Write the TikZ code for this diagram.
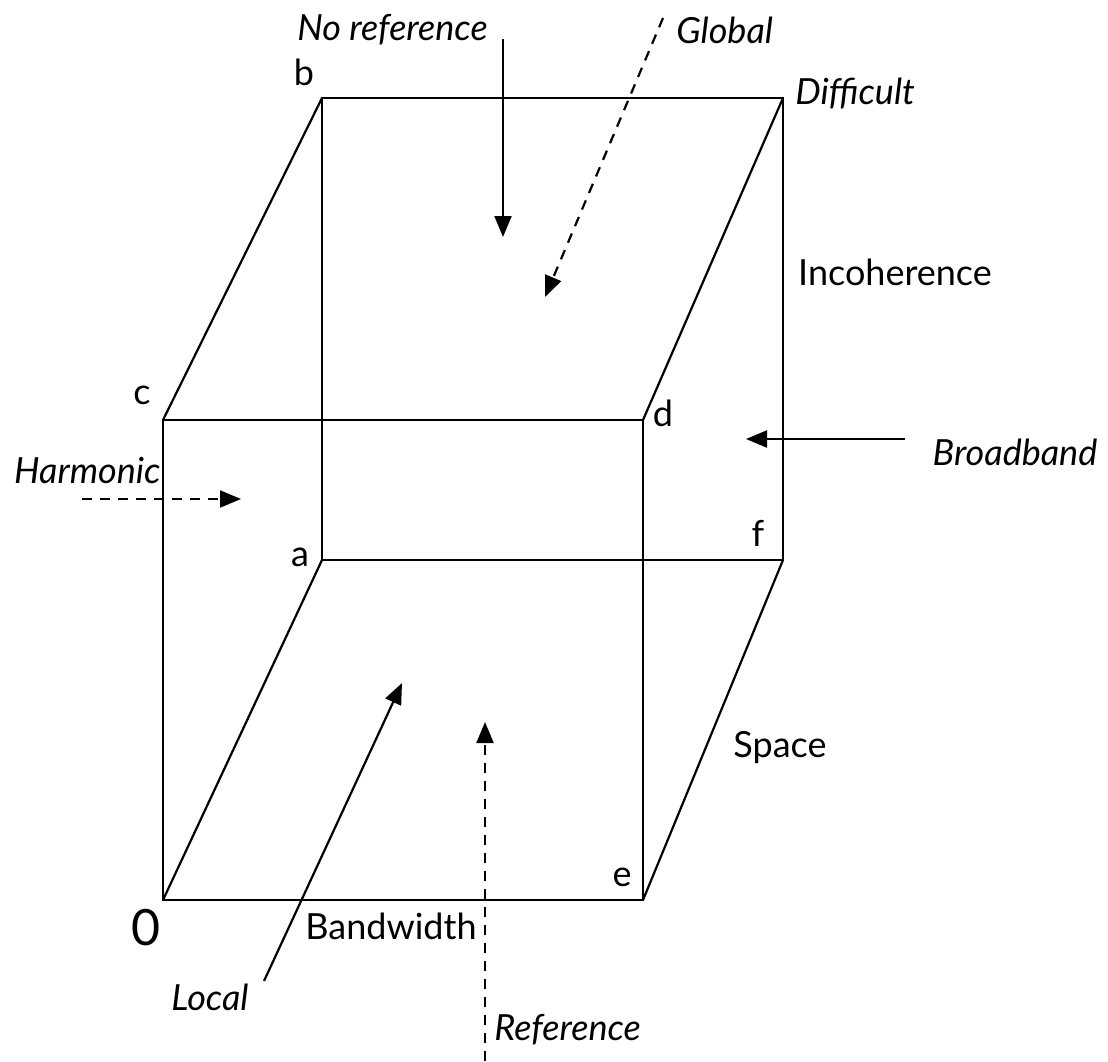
\documentclass[tikz,border=0pt]{standalone}
\usepackage{fontspec}
\setmainfont{Lato}
\usetikzlibrary{arrows.meta}

\begin{document}
\begin{tikzpicture}[
  x=0.5pt, y=-0.5pt,
  edge/.style={line width=1.1pt},
  arrow/.style={line width=1.1pt, -{Triangle[length=10.5pt,width=8.5pt]}},
  dasharrow/.style={arrow, dash pattern=on 5pt off 4pt},
  lbl/.style={inner sep=0pt, font=\fontsize{18}{21}\selectfont},
  ilbl/.style={lbl, font=\fontsize{18}{21}\selectfont\itshape}
]
\useasboundingbox (0,0) rectangle (1108,1061);
% cube corners
\coordinate (o) at (163,900);
\coordinate (e) at (643,900);
\coordinate (c) at (163,420);
\coordinate (d) at (643,420);
\coordinate (a) at (322,560);
\coordinate (f) at (783,560);
\coordinate (b) at (322,98);
\coordinate (g) at (783,98);
\draw[edge] (o) -- (e) -- (d) -- (c) -- cycle;
\draw[edge] (a) -- (f) -- (g) -- (b) -- cycle;
\draw[edge] (o) -- (a);
\draw[edge] (e) -- (f);
\draw[edge] (d) -- (g);
\draw[edge] (c) -- (b);
% corner labels
\node[lbl] (lb) at (304,72) {b};
\node[lbl] (lc) at (142,395) {c};
\node[lbl] (ld) at (663,413) {d};
\node[lbl] (la) at (300,557) {a};
\node[lbl] (lf) at (758,533) {f};
\node[lbl] (le) at (622,877) {e};
\node[inner sep=0pt, font=\fontsize{25}{28}\selectfont] (lo) at (146,928) {0};
% axis labels
\node[lbl] (bandwidth) at (391,926) {Bandwidth};
\node[lbl] (space) at (780,748) {Space};
\node[lbl] (incoherence) at (895,272) {Incoherence};
\node[ilbl, anchor=west] (difficult) at (795,93) {Difficult};
% arrows
\coordinate (noref0) at (503,39);
\coordinate (noref1) at (503,237);
\coordinate (global0) at (663,18);
\coordinate (global1) at (545,297);
\coordinate (harm0) at (82,499);
\coordinate (harm1) at (241,499);
\coordinate (broad0) at (905,439);
\coordinate (broad1) at (746,439);
\coordinate (local0) at (264,981);
\coordinate (local1) at (402,683);
\coordinate (ref0) at (485,1061);
\coordinate (ref1) at (485,722);
\draw[arrow] (noref0) -- (noref1);
\draw[dasharrow] (global0) -- (global1);
\draw[dasharrow] (harm0) -- (harm1);
\draw[arrow] (broad0) -- (broad1);
\draw[arrow] (local0) -- (local1);
\draw[dasharrow] (ref0) -- (ref1);
\node[ilbl, anchor=east] (noref) at (488,30) {No reference};
\node[ilbl, anchor=west] (global) at (676,30) {Global};
\node[ilbl, anchor=east] (harmonic) at (161,470) {Harmonic};
\node[ilbl] (broadband) at (1015,452) {Broadband};
\node[ilbl] (local) at (210,997) {Local};
\node[ilbl, anchor=west] (reference) at (494,1030) {Reference};
\end{tikzpicture}
\end{document}
